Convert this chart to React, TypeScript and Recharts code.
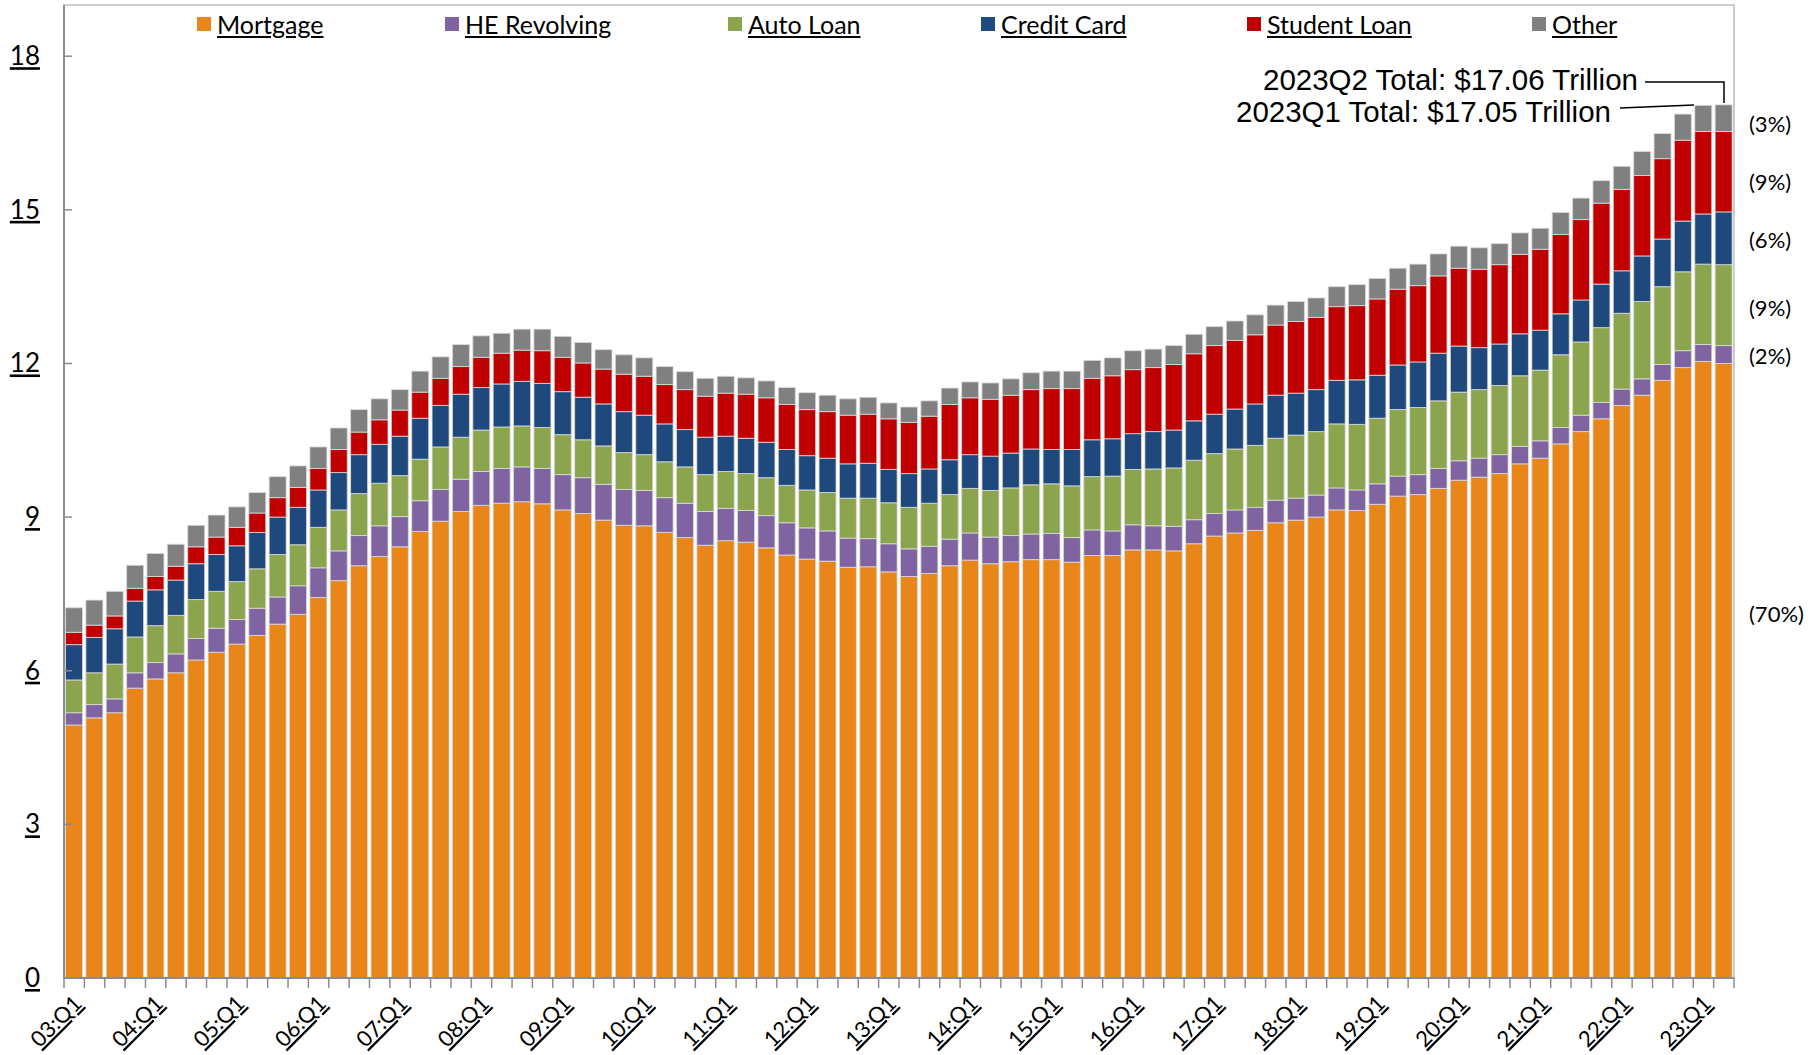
import React from 'react';
import { BarChart, Bar, XAxis, YAxis, ReferenceArea } from 'recharts';

const YEARS = ['03', '04', '05', '06', '07', '08', '09', '10', '11', '12', '13',
  '14', '15', '16', '17', '18', '19', '20', '21', '22', '23'];
const QUARTERS = YEARS.flatMap((yr) => ['Q1', 'Q2', 'Q3', 'Q4'].map((q) => `${yr}:${q}`)).slice(0, 82);

// trillions of dollars, 03:Q1 .. 23:Q2
const MORTGAGE = [
  4.94, 5.08, 5.18, 5.66, 5.84, 5.96, 6.21, 6.36, 6.52, 6.69, 6.91, 7.10, 7.43, 7.76,
  8.05, 8.23, 8.42, 8.72, 8.92, 9.11, 9.23, 9.27, 9.30, 9.26, 9.14, 9.07, 8.94, 8.84,
  8.83, 8.70, 8.60, 8.45, 8.54, 8.51, 8.40, 8.26, 8.18, 8.14, 8.02, 8.03, 7.93, 7.84,
  7.90, 8.05, 8.16, 8.09, 8.13, 8.17, 8.17, 8.12, 8.25, 8.25, 8.36, 8.36, 8.34, 8.48,
  8.63, 8.69, 8.74, 8.89, 8.94, 9.00, 9.14, 9.13, 9.25, 9.41, 9.44, 9.56, 9.72, 9.78,
  9.85, 10.04, 10.15, 10.43, 10.67, 10.92, 11.18, 11.38, 11.67, 11.92, 12.04, 12.00,
];
const HE_REVOLVING = [
  0.24, 0.26, 0.27, 0.30, 0.32, 0.37, 0.42, 0.47, 0.48, 0.53, 0.53, 0.56, 0.58, 0.58,
  0.59, 0.60, 0.59, 0.60, 0.62, 0.63, 0.66, 0.68, 0.68, 0.69, 0.69, 0.70, 0.70, 0.70,
  0.69, 0.68, 0.67, 0.66, 0.63, 0.62, 0.63, 0.63, 0.61, 0.59, 0.57, 0.55, 0.55, 0.54,
  0.53, 0.52, 0.53, 0.52, 0.51, 0.50, 0.51, 0.48, 0.50, 0.48, 0.49, 0.47, 0.48, 0.47,
  0.44, 0.45, 0.45, 0.44, 0.43, 0.43, 0.43, 0.40, 0.40, 0.39, 0.39, 0.39, 0.38, 0.37,
  0.37, 0.34, 0.34, 0.32, 0.32, 0.32, 0.32, 0.32, 0.31, 0.33, 0.33, 0.35,
];
const AUTO_LOAN = [
  0.64, 0.62, 0.68, 0.70, 0.72, 0.75, 0.76, 0.72, 0.74, 0.77, 0.83, 0.80, 0.79, 0.80,
  0.82, 0.83, 0.80, 0.81, 0.83, 0.82, 0.81, 0.81, 0.80, 0.80, 0.78, 0.74, 0.75, 0.72,
  0.70, 0.70, 0.71, 0.72, 0.72, 0.72, 0.74, 0.73, 0.74, 0.75, 0.78, 0.79, 0.80, 0.81,
  0.84, 0.87, 0.87, 0.91, 0.93, 0.96, 0.97, 1.01, 1.04, 1.07, 1.08, 1.11, 1.14, 1.16,
  1.17, 1.19, 1.21, 1.21, 1.23, 1.24, 1.25, 1.28, 1.28, 1.30, 1.31, 1.32, 1.34, 1.34,
  1.35, 1.38, 1.38, 1.42, 1.43, 1.46, 1.48, 1.51, 1.52, 1.54, 1.57, 1.58,
];
const CREDIT_CARD = [
  0.69, 0.69, 0.69, 0.70, 0.70, 0.69, 0.70, 0.72, 0.70, 0.71, 0.73, 0.73, 0.73, 0.73,
  0.76, 0.76, 0.77, 0.80, 0.81, 0.84, 0.83, 0.84, 0.87, 0.86, 0.84, 0.83, 0.82, 0.80,
  0.77, 0.74, 0.73, 0.73, 0.69, 0.69, 0.69, 0.70, 0.67, 0.67, 0.67, 0.68, 0.65, 0.66,
  0.67, 0.68, 0.66, 0.67, 0.68, 0.70, 0.67, 0.71, 0.72, 0.73, 0.70, 0.73, 0.74, 0.77,
  0.77, 0.78, 0.81, 0.84, 0.82, 0.82, 0.85, 0.87, 0.84, 0.87, 0.89, 0.93, 0.90, 0.82,
  0.81, 0.82, 0.78, 0.80, 0.82, 0.85, 0.83, 0.89, 0.93, 0.99, 0.98, 1.03,
];
const STUDENT_LOAN = [
  0.24, 0.24, 0.25, 0.25, 0.26, 0.27, 0.33, 0.34, 0.36, 0.38, 0.38, 0.39, 0.42, 0.45,
  0.44, 0.48, 0.51, 0.51, 0.53, 0.54, 0.59, 0.60, 0.61, 0.64, 0.67, 0.67, 0.68, 0.73,
  0.76, 0.77, 0.78, 0.80, 0.84, 0.86, 0.87, 0.88, 0.90, 0.91, 0.95, 0.96, 0.99, 1.00,
  1.03, 1.08, 1.11, 1.11, 1.13, 1.16, 1.19, 1.19, 1.20, 1.23, 1.25, 1.25, 1.28, 1.31,
  1.34, 1.34, 1.35, 1.37, 1.40, 1.41, 1.44, 1.45, 1.49, 1.48, 1.49, 1.51, 1.52, 1.53,
  1.55, 1.55, 1.58, 1.55, 1.57, 1.58, 1.59, 1.57, 1.57, 1.58, 1.61, 1.57,
];
const OTHER = [
  0.48, 0.49, 0.48, 0.45, 0.45, 0.43, 0.42, 0.43, 0.40, 0.40, 0.41, 0.42, 0.42, 0.42,
  0.44, 0.41, 0.40, 0.41, 0.42, 0.43, 0.42, 0.39, 0.41, 0.42, 0.41, 0.40, 0.38, 0.38,
  0.36, 0.35, 0.35, 0.35, 0.33, 0.32, 0.33, 0.33, 0.33, 0.32, 0.32, 0.33, 0.31, 0.30,
  0.30, 0.32, 0.31, 0.32, 0.32, 0.33, 0.34, 0.34, 0.35, 0.35, 0.37, 0.36, 0.37, 0.38,
  0.37, 0.38, 0.39, 0.39, 0.39, 0.38, 0.39, 0.41, 0.40, 0.41, 0.42, 0.43, 0.43, 0.42,
  0.41, 0.42, 0.41, 0.43, 0.42, 0.44, 0.45, 0.47, 0.49, 0.51, 0.51, 0.52,
];

const SERIES = [
  { key: 'mortgage', name: 'Mortgage', color: '#E8861A', values: MORTGAGE },
  { key: 'he', name: 'HE Revolving', color: '#8064A2', values: HE_REVOLVING },
  { key: 'auto', name: 'Auto Loan', color: '#8BA54E', values: AUTO_LOAN },
  { key: 'card', name: 'Credit Card', color: '#1F497D', values: CREDIT_CARD },
  { key: 'student', name: 'Student Loan', color: '#C00000', values: STUDENT_LOAN },
  { key: 'other', name: 'Other', color: '#808080', values: OTHER },
];

const Y_TICKS = [0, 3, 6, 9, 12, 15, 18];
const SHARE_LABELS = ['(3%)', '(9%)', '(6%)', '(9%)', '(2%)', '(70%)'];
const TOTAL_NOTES = ['2023Q2 Total: $17.06 Trillion', '2023Q1 Total: $17.05 Trillion'];

// layout (page px)
const LEGEND_X = [197, 445, 728, 981, 1247, 1532];
const SHARE_Y = [124, 182, 240, 308, 356, 614];
const FONT = 'Lato, "Open Sans", sans-serif';
const NOTE_FONT = '"Liberation Sans", Arial, sans-serif';

const data = QUARTERS.map((q, i) => {
  const row: any = { q };
  SERIES.forEach((s) => { row[s.key] = s.values[i]; });
  return row;
});

function QuarterTick({ x, y, payload, index }: any) {
  const half = payload?.offset || 10.18;
  const label = String(payload.value).endsWith('Q1') ? payload.value : '';
  const last = index === QUARTERS.length - 1;
  return (
    <g>
      <line x1={x - half} x2={x - half} y1={y} y2={y + 10} stroke="#8c8c8c" strokeWidth={1.5} />
      {last && <line x1={x + half} x2={x + half} y1={y} y2={y + 10} stroke="#8c8c8c" strokeWidth={1.5} />}
      {label && (
        <text x={x + 9} y={y + 27} transform={`rotate(-45 ${x + 9} ${y + 27})`}
              textAnchor="end" fontFamily={FONT} fontSize={22} fill="#000"
              style={{ textDecoration: 'underline' }}>
          {label}
        </text>
      )}
    </g>
  );
}

function ValueTick({ x, y, payload }: any) {
  return (
    <g>
      <line x1={x} x2={x + 8} y1={y} y2={y} stroke="#8c8c8c" strokeWidth={1.5} />
      <text x={x - 24} y={y + 9} textAnchor="end" fontFamily={FONT} fontSize={26} fill="#000"
            style={{ textDecoration: 'underline' }}>
        {payload.value}
      </text>
    </g>
  );
}

export default function App() {
  return (
    <div style={{ position: 'absolute', left: 0, top: 0, width: 1816, height: 1055, background: '#fff', overflow: 'hidden' }}>
      <BarChart width={1816} height={1055} data={data} barCategoryGap={1.5}
                margin={{ top: 5, right: 82, bottom: 7, left: 10 }}>
        <ReferenceArea y1={0} y2={19} fill="none" stroke="#bdbdbd" strokeWidth={1.5} ifOverflow="visible" />
        <XAxis dataKey="q" interval={0} height={70} tickSize={0} tickMargin={0}
               axisLine={{ stroke: '#8c8c8c', strokeWidth: 2 }} tick={<QuarterTick />} />
        <YAxis type="number" domain={[0, 19]} ticks={Y_TICKS} width={54} tickSize={0} tickMargin={0}
               axisLine={{ stroke: '#8c8c8c', strokeWidth: 2 }} tick={<ValueTick />} />
        {SERIES.map((s) => (
          <Bar key={s.key} dataKey={s.key} name={s.name} stackId="debt" fill={s.color}
               stroke="#dcdcdc" strokeWidth={0.8} isAnimationActive={false} />
        ))}
      </BarChart>

      {/* legend */}
      {SERIES.map((s, i) => (
        <div key={s.key} style={{ position: 'absolute', left: LEGEND_X[i], top: 8, height: 32,
                                  display: 'flex', alignItems: 'center', fontFamily: FONT, fontSize: 25 }}>
          <span style={{ width: 14, height: 14, background: s.color, marginRight: 6, display: 'inline-block' }} />
          <span style={{ textDecoration: 'underline' }}>{s.name}</span>
        </div>
      ))}

      {/* totals + shares */}
      <svg width={1816} height={1055} style={{ position: 'absolute', left: 0, top: 0, pointerEvents: 'none' }}>
        <text x={1638} y={90} textAnchor="end" fontFamily={NOTE_FONT} fontSize={29.5}>{TOTAL_NOTES[0]}</text>
        <text x={1611} y={122} textAnchor="end" fontFamily={NOTE_FONT} fontSize={29.5}>{TOTAL_NOTES[1]}</text>
        <polyline points="1645,82 1724,82 1724,103" fill="none" stroke="#000" strokeWidth={1.5} />
        <line x1={1620} y1={108} x2={1694} y2={105} stroke="#000" strokeWidth={1.5} />
        {SHARE_LABELS.map((t, i) => (
          <text key={i} x={1749} y={SHARE_Y[i] + 8} fontFamily={FONT} fontSize={22} fill="#000">{t}</text>
        ))}
      </svg>
    </div>
  );
}
